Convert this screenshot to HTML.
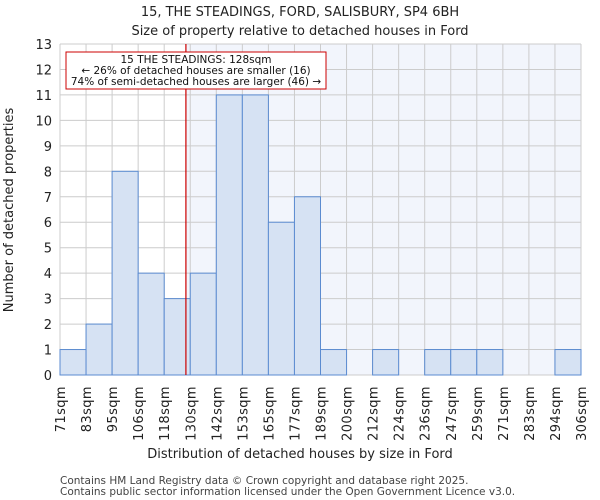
<!DOCTYPE html>
<html><head><meta charset="utf-8"><style>body{margin:0;background:#fff}svg{display:block;font-family:"DejaVu Sans","Liberation Sans",sans-serif}</style></head>
<body>
<svg id="c" width="600" height="500"></svg>
<script>
const categories=["71sqm","83sqm","95sqm","106sqm","118sqm","130sqm","142sqm","153sqm","165sqm","177sqm","189sqm","200sqm","212sqm","224sqm","236sqm","247sqm","259sqm","271sqm","283sqm","294sqm","306sqm"];
const counts=[1,2,8,4,3,4,11,11,6,7,1,0,1,0,1,1,1,0,0,1];
const yTicks=[0,1,2,3,4,5,6,7,8,9,10,11,12,13];
const markerValue=128;
const binEdges=[71,83,95,106,118,130,142,153,165,177,189,200,212,224,236,247,259,271,283,294,306];
const NS="http://www.w3.org/2000/svg",svg=document.getElementById('c');
const L=60,R=581,T=44,B=375,n=counts.length,bw=(R-L)/n;
const x=i=>L+i*bw, y=v=>B-(v/13)*(B-T);
function xv(v){for(let i=0;i<binEdges.length-1;i++){if(v<=binEdges[i+1])return x(i)+bw*(v-binEdges[i])/(binEdges[i+1]-binEdges[i]);}return R;}
function mk(t,a,p){const e=document.createElementNS(NS,t);for(const k in a)e.setAttribute(k,a[k]);(p||svg).appendChild(e);return e;}
const mx=xv(markerValue);
const bg=mk('rect',{x:L,y:T,width:R-L,height:B-T,fill:'#fff'});


const sh=mk('rect',{x:mx,y:T,width:R-mx,height:B-T,fill:'#f2f5fc'});


yTicks.forEach(v=>{const g=mk('line',{x1:L,x2:R,y1:y(v),y2:y(v),stroke:'#cccccc'});


const t=mk('text',{x:L-8,y:y(v)+5,'text-anchor':'end','font-size':13,fill:'#222'});t.textContent=v;

});
categories.forEach((c,i)=>{const g=mk('line',{x1:x(i),x2:x(i),y1:T,y2:B,stroke:'#cccccc'});


const t=mk('text',{transform:`translate(${x(i)+5},${B+11}) rotate(-90)`,'text-anchor':'end','font-size':13,'letter-spacing':0.4,fill:'#222'});t.textContent=c;

});
counts.forEach((v,i)=>{if(v<=0)return;const r=mk('rect',{x:x(i),y:y(v),width:bw,height:B-y(v),fill:'#d6e2f3',stroke:'#5b8bd0','stroke-width':1});

});
const ml=mk('line',{x1:mx,x2:mx,y1:T,y2:B,stroke:'#cc0000','stroke-width':1.2});


const ab=mk('rect',{x:66,y:52,width:260,height:37,fill:'#fff',stroke:'#cc0000'});


[["15 THE STEADINGS: 128sqm",63],["← 26% of detached houses are smaller (16)",74],["74% of semi-detached houses are larger (46) →",85]].forEach(([s,yy])=>{const t=mk('text',{x:196,y:yy,'text-anchor':'middle','font-size':10.5,fill:'#111'});t.textContent=s;

});
function txt(s,a,name){const t=mk('text',a);t.textContent=s;}
txt("15, THE STEADINGS, FORD, SALISBURY, SP4 6BH",{x:300,y:16,'text-anchor':'middle','font-size':13,fill:'#222'},'chart-title');
txt("Size of property relative to detached houses in Ford",{x:300,y:35,'text-anchor':'middle','font-size':13,fill:'#222'},'chart-subtitle');
txt("Distribution of detached houses by size in Ford",{x:300,y:458,'text-anchor':'middle','font-size':13,fill:'#222'},'x-axis-title');
txt("Number of detached properties",{transform:'translate(13,210) rotate(-90)','text-anchor':'middle','font-size':13,fill:'#222'},'y-axis-title');
txt("Contains HM Land Registry data © Crown copyright and database right 2025.",{x:60,y:484,'font-size':10.5,fill:'#444'},'footer-line-1');
txt("Contains public sector information licensed under the Open Government Licence v3.0.",{x:60,y:495,'font-size':10.5,fill:'#444'},'footer-line-2');
</script>
</body></html>
